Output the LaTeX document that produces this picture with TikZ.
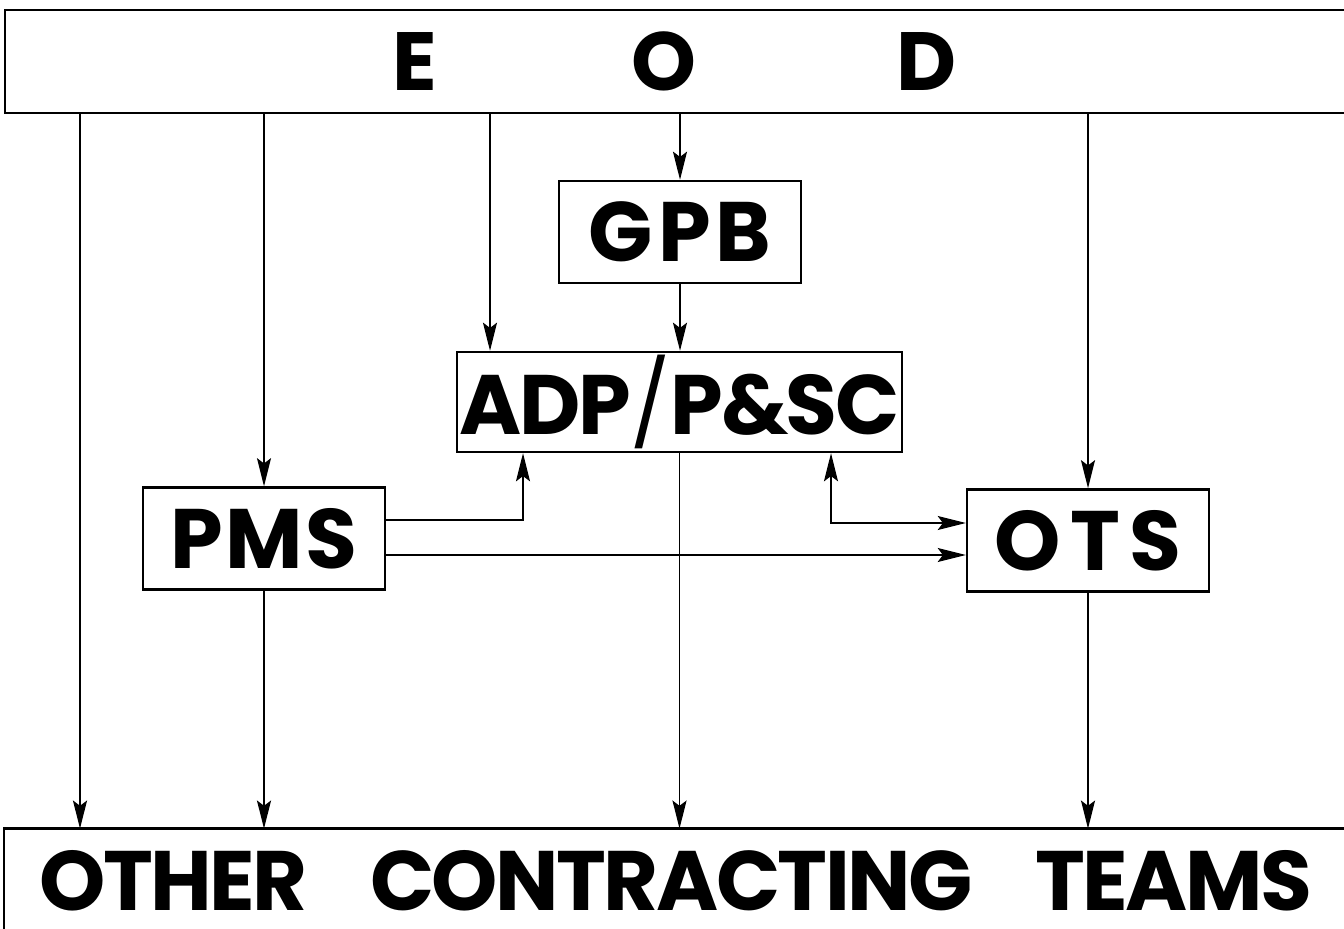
\documentclass[tikz,border=0pt]{standalone}
\usepackage{fontspec}
\setmainfont{Poppins}
\usetikzlibrary{arrows.meta}
\tikzset{
  box/.style={draw, line width=1.4pt, inner sep=0pt},
  smallbox/.style={box, minimum width=4.84cm, minimum height=2.04cm},
  arr/.style={-{Stealth[length=16pt,width=8pt,inset=3pt]}, line width=0.8pt},
  dblarr/.style={{Stealth[length=16pt,width=8pt,inset=3pt]}-{Stealth[length=16pt,width=8pt,inset=3pt]}, line width=0.8pt},
}
\newcommand{\boxfont}[2]{\fontsize{#1}{#1}\selectfont\bfseries\addfontfeature{LetterSpace=#2}}
\begin{document}
\begin{tikzpicture}
\useasboundingbox (0,0) rectangle (26.88,18.56);
% boxes
\node[box, anchor=west, minimum height=2.06cm, font=\boxfont{47}{0}] (EOD) at (0.08,17.33) {\hspace{7.74cm}E\hspace{3.9cm}O\hspace{4.0cm}D\hspace{10cm}\mbox{}};
\node[smallbox, font=\boxfont{48}{6}] (GPB) at (13.6,13.92) {GPB};
\node[box, minimum width=8.9cm, minimum height=2.0cm, font=\boxfont{48}{-3}] (ADP) at (13.59,10.52) {ADP{\mdseries/}P\&SC};
\node[smallbox, font=\boxfont{48}{3}] (PMS) at (5.28,7.79) {PMS};
\node[smallbox, font=\boxfont{48}{11}] (OTS) at (21.76,7.75) {OTS};
\node[anchor=base west, inner xsep=0.7cm, inner ysep=0.34cm, text height=1.28cm, text depth=0pt, font=\boxfont{48}{-3}] (OTC) at (0.08,0.36) {OTHER\hspace{1.25cm}CONTRACTING\hspace{1.25cm}TEAMS};
% the bottom box runs off the page
\coordinate (otcend) at (27.5,0);
\draw[line width=1.4pt] ([yshift=-1cm]OTC.south west) -- (OTC.north west) -- (OTC.north -| otcend);
% columns and rows of the connectors
\coordinate (c1) at (1.6,0);
\coordinate (c3) at (9.8,0);
\coordinate (c4) at (10.46,8.16);
\coordinate (c6) at (16.62,8.10);
\coordinate (r2) at (0,7.46);
% from EOD
\draw[arr] (EOD.south -| c1) -- (OTC.north -| c1);
\draw[arr] (EOD.south -| PMS) -- (PMS.north);
\draw[arr] (EOD.south -| c3) -- (ADP.north -| c3);
\draw[arr] (EOD.south -| GPB) -- (GPB.north);
\draw[arr] (EOD.south -| OTS) -- (OTS.north);
% middle
\draw[arr] (GPB.south) -- (ADP.north -| GPB);
\draw[arr] (PMS.east |- c4) -| (ADP.south -| c4);
\draw[arr] (PMS.east |- r2) -- (OTS.west |- r2);
\draw[dblarr] (ADP.south -| c6) |- (OTS.west |- c6);
% to other contracting teams
\draw[arr] (PMS.south) -- (OTC.north -| PMS);
\draw[arr] (ADP.south) -- (OTC.north -| ADP);
\draw[arr] (OTS.south) -- (OTC.north -| OTS);
\end{tikzpicture}
\end{document}
